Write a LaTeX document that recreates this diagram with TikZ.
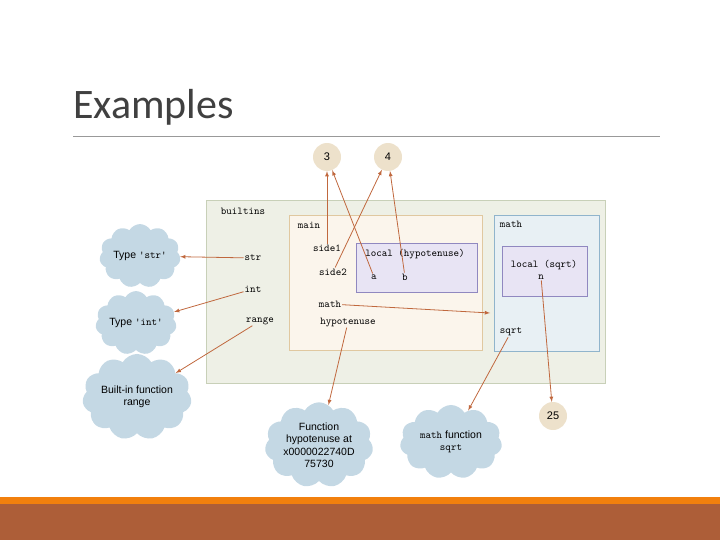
\documentclass[tikz,border=0pt]{standalone}
\usepackage{fontspec}
\setmainfont{Liberation Sans}
\newfontfamily\titlefont{Carlito}
\usetikzlibrary{shapes.symbols}
\definecolor{arr}{HTML}{C0683E}
\definecolor{cloudc}{HTML}{C4D8E4}
\definecolor{valc}{HTML}{EDE1CB}
\tikzset{
    every node/.style={font=\fontsize{10.5}{12.5}\selectfont},
    code/.style={font=\ttfamily\fontsize{10.5}{12}\selectfont, inner sep=1pt},
    note/.style={cloud, cloud puffs=11, cloud puff arc=120, fill=cloudc, aspect=1.4, align=center, inner sep=0pt},
    val/.style={circle, fill=valc, minimum size=28pt, inner sep=0pt, font=\fontsize{11}{13}\selectfont},
    link/.style={->, >=latex, arr, thick}
}
\begin{document}
\begin{tikzpicture}[x=1pt,y=-1pt]
        \useasboundingbox (0,0) rectangle (720,540);
        % slide frame
        \node[anchor=west, font=\titlefont\fontsize{42}{46}\selectfont, text=black!75, inner sep=0pt] (title) at (73,107) {Examples};
        \draw[black!40] (73,136) -- (660,136);
        \fill[orange!80!brown] (0,497) rectangle (720,504);
        \fill[arr!90!black] (0,504) rectangle (720,540);
        % frames
        \draw[fill={rgb,255:red,238;green,240;blue,230}, draw={rgb,255:red,200;green,208;blue,184}, thick] (206,200) rectangle (605,383);
        \draw[fill={rgb,255:red,251;green,245;blue,236}, draw={rgb,255:red,224;green,200;blue,160}, thick] (289,215) rectangle (482,350);
        \draw[fill={rgb,255:red,232;green,228;blue,244}, draw={rgb,255:red,144;green,136;blue,192}, thick] (356,243) rectangle (477,292);
        \draw[fill={rgb,255:red,232;green,240;blue,244}, draw={rgb,255:red,144;green,180;blue,204}, thick] (494,215) rectangle (599,351);
        \draw[fill={rgb,255:red,232;green,228;blue,244}, draw={rgb,255:red,144;green,136;blue,192}, thick] (502,246) rectangle (587,296);
        % names
        \node[code] (builtins) at (243,211) {builtins};
        \node[code] (str) at (253,258) {str};
        \node[code] (int) at (253,289) {int};
        \node[code] (range) at (260,321) {range};
        \node[code] (mainlbl) at (309,225) {main};
        \node[code] (side1) at (327,248) {side1};
        \node[code] (side2) at (333,272) {side2};
        \node[code] (localh) at (415,254) {local (hypotenuse)};
        \node[code] (a) at (374,277) {a};
        \node[code] (b) at (405,277) {b};
        \node[code] (math) at (330,304) {math};
        \node[code] (hyp) at (348,322) {hypotenuse};
        \node[code] (mathlbl) at (511,224) {math};
        \node[code] (locals) at (544,265) {local (sqrt)};
        \node[code] (n) at (541,277) {n};
        \node[code] (sqrt) at (511,332) {sqrt};
        \coordinate (mathmod) at (490,313);
        % values
        \node[val] (three) at (327,157) {3};
        \node[val] (four) at (388,157) {4};
        \node[val] (tf) at (553,416) {25};
        % objects
        \node[note, minimum width=80pt, minimum height=58pt] (tstr) at (140,256) {Type {\ttfamily 'str'}};
        \node[note, minimum width=80pt, minimum height=58pt] (tint) at (136,323) {Type {\ttfamily 'int'}};
        \node[note, minimum width=102pt, minimum height=72pt] (frange) at (137,397) {Built-in function\\range};
        \node[note, minimum width=102pt, minimum height=78pt] (fhyp) at (319,445) {Function\\hypotenuse at\\x0000022740D\\75730};
        \node[note, minimum width=102pt, minimum height=72pt] (fsqrt) at (451,442) {{\ttfamily math} function\\{\ttfamily sqrt}};
        % links
        \draw[link] (side1) -- (three);
        \draw[link] (a) -- (three);
        \draw[link] (side2) -- (four);
        \draw[link] (b) -- (four);
        \draw[link] (str) -- (tstr);
        \draw[link] (int) -- (tint);
        \draw[link] (range) -- (frange);
        \draw[link] (math) -- (mathmod);
        \draw[link] (hyp) -- (fhyp);
        \draw[link] (sqrt) -- (fsqrt);
        \draw[link] (n) -- (tf);
    \end{tikzpicture}
\end{document}
